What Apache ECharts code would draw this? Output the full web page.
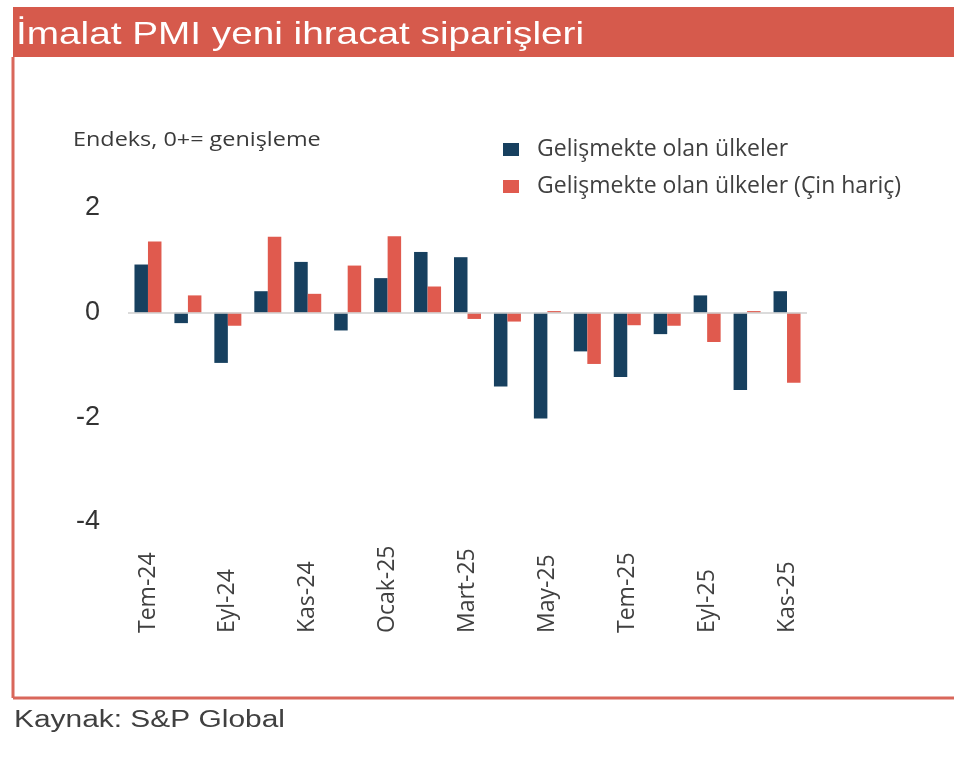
<!DOCTYPE html>
<html>
<head>
<meta charset="utf-8">
<script src="https://cdn.jsdelivr.net/npm/echarts@6/dist/echarts.min.js"></script>
<style>
  html, body { margin: 0; padding: 0; background: #fff; }
  #chart { width: 954px; height: 778px; }
</style>
</head>
<body>
<div id="chart"></div>
<script>
// aylar (Tem-24 .. Kas-25)
var months = ['Tem-24', 'Ağu-24', 'Eyl-24', 'Eki-24', 'Kas-24', 'Ara-24', 'Ocak-25', 'Şub-25', 'Mart-25',
    'Nis-25', 'May-25', 'Haz-25', 'Tem-25', 'Ağu-25', 'Eyl-25', 'Eki-25', 'Kas-25'];
var emerging = [0.92, -0.2, -0.96, 0.41, 0.97, -0.34, 0.66, 1.16, 1.06, -1.41, -2.02, -0.74, -1.23, -0.41, 0.33, -1.48, 0.41];
var emergingExChina = [1.36, 0.33, -0.25, 1.45, 0.36, 0.9, 1.46, 0.5, -0.12, -0.17, 0.03, -0.98, -0.24, -0.25, -0.56, 0.03, -1.34];
var seriesNames = ['Gelişmekte olan ülkeler', 'Gelişmekte olan ülkeler (Çin hariç)'];
var yTicks = [-4, -2, 0, 2];

var chartMain = (function() {
    var myChart = echarts.init(document.getElementById('chart'), null, { renderer: 'canvas' });

    var option = {
        animation: false,
        backgroundColor: '#fff',
        legend: {
            orient: 'vertical',
            left: 498,
            top: 133,
            itemWidth: 16,
            itemHeight: 13,
            itemGap: 14,
            icon: 'rect',
            data: seriesNames,
            textStyle: {
                fontFamily: 'Open Sans',
                fontSize: 23,
                color: '#404040',
                padding: [0, 0, 0, 13]
            }
        },
        grid: { left: 128, right: 147, top: 208, bottom: 256 },
        xAxis: {
            type: 'category',
            data: months,
            axisLine: { show: false, onZero: false },
            axisTick: { show: false },
            axisLabel: {
                interval: 1,
                rotate: 90,
                align: 'left',
                verticalAlign: 'middle',
                margin: 111,
                fontFamily: 'Open Sans',
                fontSize: 23,
                color: '#404040'
            }
        },
        yAxis: {
            type: 'value',
            min: yTicks[0],
            max: yTicks[yTicks.length - 1],
            interval: 2,
            splitLine: { show: false },
            axisLine: { show: false },
            axisTick: { show: false },
            axisLabel: {
                margin: 28,
                fontFamily: 'Liberation Sans',
                fontSize: 27,
                color: '#333'
            }
        },
        series: [{
            name: seriesNames[0],
            type: 'bar',
            data: emerging,
            barWidth: 13.5,
            barGap: '0%',
            itemStyle: { color: '#17405f' },
            markLine: {
                silent: true,
                symbol: 'none',
                label: { show: false },
                lineStyle: { color: '#cfcfcf', width: 1.5, type: 'solid' },
                data: [{ yAxis: 0 }]
            }
        }, {
            name: seriesNames[1],
            type: 'bar',
            data: emergingExChina,
            barWidth: 13.5,
            barGap: '0%',
            itemStyle: { color: '#e05a4e' }
        }],
        graphic: [
            // başlık bandı
            { type: 'rect', left: 13, top: 7, shape: { width: 941, height: 50 }, style: { fill: '#d65a4c' }, z: 0 },
            // çerçeve
            { type: 'line', shape: { x1: 13, y1: 57, x2: 13, y2: 698 }, style: { stroke: '#d9675b', lineWidth: 3 }, z: 0 },
            { type: 'line', shape: { x1: 13, y1: 698, x2: 954, y2: 698 }, style: { stroke: '#d9675b', lineWidth: 3 }, z: 0 },
            {
                type: 'text', x: 16, y: 35, scaleX: 1.21, z: 2,
                style: { text: 'İmalat PMI yeni ihracat siparişleri', fill: '#fff',
                    font: '32px "Liberation Sans", Arial, sans-serif', textVerticalAlign: 'middle' }
            },
            {
                type: 'text', x: 73, y: 140, scaleX: 1.17, z: 2,
                style: { text: 'Endeks, 0+= genişleme', fill: '#3a3a3a',
                    font: '20px "Open Sans", sans-serif', textVerticalAlign: 'middle' }
            },
            {
                type: 'text', x: 14, y: 721, scaleX: 1.3, z: 2,
                style: { text: 'Kaynak: S&P Global', fill: '#404040',
                    font: '23px "Liberation Sans", Arial, sans-serif', textVerticalAlign: 'middle' }
            }
        ]
    };

    myChart.setOption(option, true);
    return { chart: myChart };
})();
</script>
</body>
</html>
